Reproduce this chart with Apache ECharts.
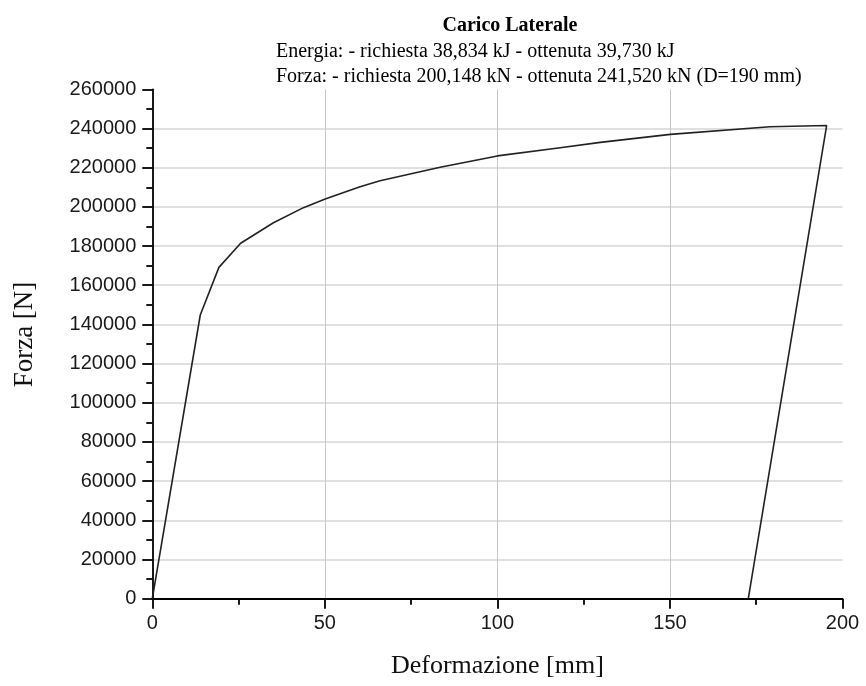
<!DOCTYPE html>
<html>
<head>
<meta charset="utf-8">
<script src="https://cdn.jsdelivr.net/npm/echarts@6/dist/echarts.min.js"></script>
<style>
html,body{margin:0;padding:0;background:#fff;}
#chart{width:866px;height:686px;}
</style>
</head>
<body>
<div id="chart"></div>
<script>
// Deformation [mm] and force [N] (loading then unloading)
const deformazione = [0, 13.9, 19.3, 25.6, 35.1, 43.8, 50.1, 60.2, 66.0, 83.4, 100.0, 118.2, 129.8, 150.1, 179.0, 195.4, 172.7];
const forza = [0, 144800, 169100, 181400, 191900, 199600, 204000, 210300, 213300, 220200, 226000, 230200, 232900, 237000, 240900, 241520, 0];

const titolo = 'Carico Laterale';
const riga1 = 'Energia: - richiesta 38,834 kJ - ottenuta 39,730 kJ';
const riga2 = 'Forza: - richiesta 200,148 kN - ottenuta 241,520 kN (D=190 mm)';
const nomeX = 'Deformazione [mm]';
const nomeY = 'Forza [N]';

const xMin = 0, xMax = 200, xStep = 50;
const yMin = 0, yMax = 260000, yStep = 20000;

const points = deformazione.map((d, i) => [d, forza[i]]);

const chart = echarts.init(document.getElementById('chart'), null, {renderer: 'canvas'});
const serif = 'Liberation Serif, Times New Roman, serif';
const sans = 'Liberation Sans, Arial, sans-serif';

chart.setOption({
  backgroundColor: '#ffffff',
  animation: false,
  grid: {left: 152.3, right: 23.5, top: 89.3, bottom: 87.3, containLabel: false},
  graphic: [
    {type: 'text', x: 510, y: 25.5,
     style: {text: titolo, font: 'bold 20px ' + serif, fill: '#000', align: 'center', verticalAlign: 'middle'}},
    {type: 'text', x: 276, y: 51.3,
     style: {text: riga1, font: '20px ' + serif, fill: '#000', align: 'left', verticalAlign: 'middle'}},
    {type: 'text', x: 276, y: 76.3,
     style: {text: riga2, font: '20px ' + serif, fill: '#000', align: 'left', verticalAlign: 'middle'}}
  ],
  xAxis: {
    type: 'value', min: xMin, max: xMax, interval: xStep,
    name: nomeX, nameLocation: 'middle', nameGap: 54,
    nameTextStyle: {fontFamily: serif, fontSize: 26, color: '#111'},
    axisLine: {show: true, onZero: false, lineStyle: {color: '#000', width: 1.8}},
    axisTick: {show: true, inside: false, length: 10, lineStyle: {color: '#000', width: 1.8}},
    minorTick: {show: true, splitNumber: 2, length: 6, lineStyle: {color: '#000', width: 1.8}},
    axisLabel: {fontFamily: sans, fontSize: 20, color: '#1a1a1a', margin: 15, formatter: v => String(v)},
    splitLine: {show: true, showMinLine: false, showMaxLine: false, lineStyle: {color: '#c8c8c8', width: 1}}
  },
  yAxis: {
    type: 'value', min: yMin, max: yMax, interval: yStep,
    name: nomeY, nameLocation: 'middle', nameGap: 114, nameRotate: 90,
    nameTextStyle: {fontFamily: serif, fontSize: 27, color: '#111', padding: [0, 0, 0, 19]},
    axisLine: {show: true, onZero: false, lineStyle: {color: '#000', width: 1.8}},
    axisTick: {show: true, inside: false, length: 10, lineStyle: {color: '#000', width: 1.8}},
    minorTick: {show: true, splitNumber: 2, length: 6, lineStyle: {color: '#000', width: 1.8}},
    axisLabel: {fontFamily: sans, fontSize: 20, color: '#1a1a1a', margin: 16, formatter: v => String(v)},
    splitLine: {show: true, showMinLine: false, showMaxLine: false, lineStyle: {color: '#d6d6d6', width: 1.5}}
  },
  series: [{
    type: 'line',
    data: points,
    showSymbol: false,
    symbol: 'none',
    smooth: false,
    lineStyle: {color: '#222', width: 1.6},
    clip: false
  }]
});
</script>
</body>
</html>
